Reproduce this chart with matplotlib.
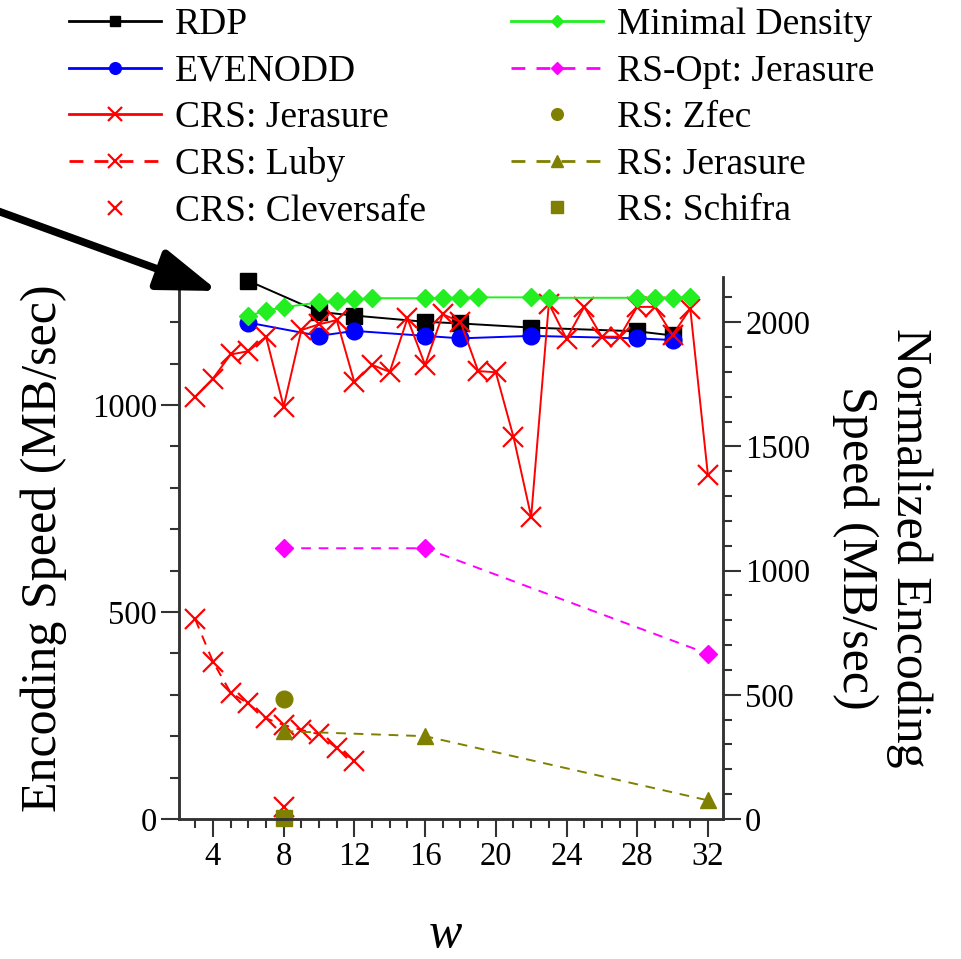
import numpy as np
import matplotlib
matplotlib.use('Agg')
import matplotlib.pyplot as plt
from matplotlib.ticker import MultipleLocator
from matplotlib.patches import FancyArrowPatch

# ---- data ----
w_pm1 = [6, 10, 12, 16, 18, 22, 28, 30]
rdp = [1300, 1225, 1216, 1201, 1197, 1187, 1178, 1168]
evenodd = [1199, 1167, 1179, 1167, 1161, 1167, 1161, 1157]

w_crs = list(range(3, 33))
crs_jerasure = [1020, 1064, 1122, 1130, 1165, 996, 1181, 1195, 1205, 1055,
                1097, 1080, 1209, 1097, 1219, 1201, 1082, 1079, 923, 730,
                1245, 1160, 1237, 1165, 1165, 1237, 1237, 1169, 1233, 830]

w_luby = list(range(3, 13))
crs_luby = [482, 380, 305, 279, 243, 227, 215, 205, 171, 141]

w_cleversafe = [8]
crs_cleversafe = [30]

w_mindens = [6, 7, 8, 10, 11, 12, 13, 16, 17, 18, 19, 22, 23, 28, 29, 30, 31]
min_density = [1215, 1228, 1236, 1248, 1252, 1255, 1258, 1258, 1259, 1259,
               1260, 1260, 1259, 1259, 1259, 1259, 1260]

w_rs = [8, 16, 32]
rs_opt_jerasure = [654, 654, 399]
rs_jerasure = [212, 200, 45]

w_zfec = [8]
rs_zfec = [291]
w_schifra = [8]
rs_schifra = [2]

RED = '#ff0000'
OLIVE = '#808000'

plt.rcParams['font.family'] = ['Liberation Serif', 'DejaVu Serif']

fig = plt.figure(figsize=(9.61, 9.59), dpi=100)
ax = fig.add_axes([0.1863, 0.146, 0.5660, 0.5655])
ax2 = ax.twinx()

lw = 1.4
h = []
h.append(ax.plot(w_pm1, rdp, '-s', color='black', lw=lw, ms=11, label='RDP')[0])
h.append(ax.plot(w_pm1, evenodd, '-o', color='#0000ff', lw=lw, ms=12, label='EVENODD')[0])
h.append(ax.plot(w_crs, crs_jerasure, '-x', color=RED, lw=lw, ms=14, mew=1.6,
                 label='CRS: Jerasure')[0])
h.append(ax.plot(w_luby, crs_luby, '--x', color=RED, lw=lw, ms=14, mew=1.6,
                 dashes=(5, 4), label='CRS: Luby')[0])
h.append(ax.plot(w_cleversafe, crs_cleversafe, 'x', color=RED, ms=14, mew=1.6,
                 label='CRS: Cleversafe')[0])
h.append(ax.plot(w_mindens, min_density, '-D', color='#22ee22', lw=lw, ms=9,
                 label='Minimal Density')[0])
h.append(ax.plot(w_rs, rs_opt_jerasure, '--D', color='#ff00ff', lw=lw, ms=9,
                 dashes=(5, 4), label='RS-Opt: Jerasure')[0])
h.append(ax.plot(w_zfec, rs_zfec, 'o', color=OLIVE, ms=12, label='RS: Zfec')[0])
h.append(ax.plot(w_rs, rs_jerasure, '--^', color=OLIVE, lw=lw, ms=12,
                 dashes=(5, 4), label='RS: Jerasure')[0])
h.append(ax.plot(w_schifra, rs_schifra, 's', color=OLIVE, ms=12,
                 label='RS: Schifra')[0])
for line in h:
    line.set_clip_on(False)

ax.set_xlim(2.08, 32.85)
ax.set_ylim(0, 1310)
ax2.set_ylim(0, 1310 * 5 / 3)

ax.set_xticks([4, 8, 12, 16, 20, 24, 28, 32])
ax.xaxis.set_minor_locator(MultipleLocator(1))
ax.yaxis.set_major_locator(MultipleLocator(500))
ax.yaxis.set_minor_locator(MultipleLocator(100))
ax2.yaxis.set_major_locator(MultipleLocator(500))
ax2.yaxis.set_minor_locator(MultipleLocator(100))

for a in (ax, ax2):
    a.spines['top'].set_visible(False)
    for s in a.spines.values():
        s.set_linewidth(1.8)
        s.set_color('#333333')
    a.tick_params(which='major', length=13, width=1.5, color='#333333',
                  labelsize=23.5, direction='out', pad=3)
    a.tick_params(which='minor', length=6.5, width=1.5, color='#333333',
                  direction='out')

ax.set_ylabel('Encoding Speed (MB/sec)', fontsize=36, labelpad=18)
ax2.set_ylabel('Normalized Encoding\nSpeed (MB/sec)', fontsize=36,
               rotation=270, labelpad=88, multialignment='center')
fig.text(445 / 961, 1 - 935 / 959, 'w', fontsize=36, style='italic',
         ha='center', va='center')

leg = fig.legend(handles=h, ncol=2, loc='upper left',
                 bbox_to_anchor=(0.037, 1.027), frameon=False, fontsize=27,
                 markerscale=0.7, handlelength=2.45, handletextpad=0.37,
                 columnspacing=2.26, labelspacing=0.32)
for lh in leg.legend_handles:
    lh.set_linewidth(2.0)

arrow = FancyArrowPatch((-5 / 961, 1 - 210 / 959), (218 / 961, 1 - 291 / 959),
                        transform=fig.transFigure, color='black', lw=5.5,
                        arrowstyle='-|>,head_length=2.6,head_width=0.9',
                        mutation_scale=14, shrinkA=0, shrinkB=0)
fig.patches.append(arrow)

fig.savefig('out.png', dpi=100)
